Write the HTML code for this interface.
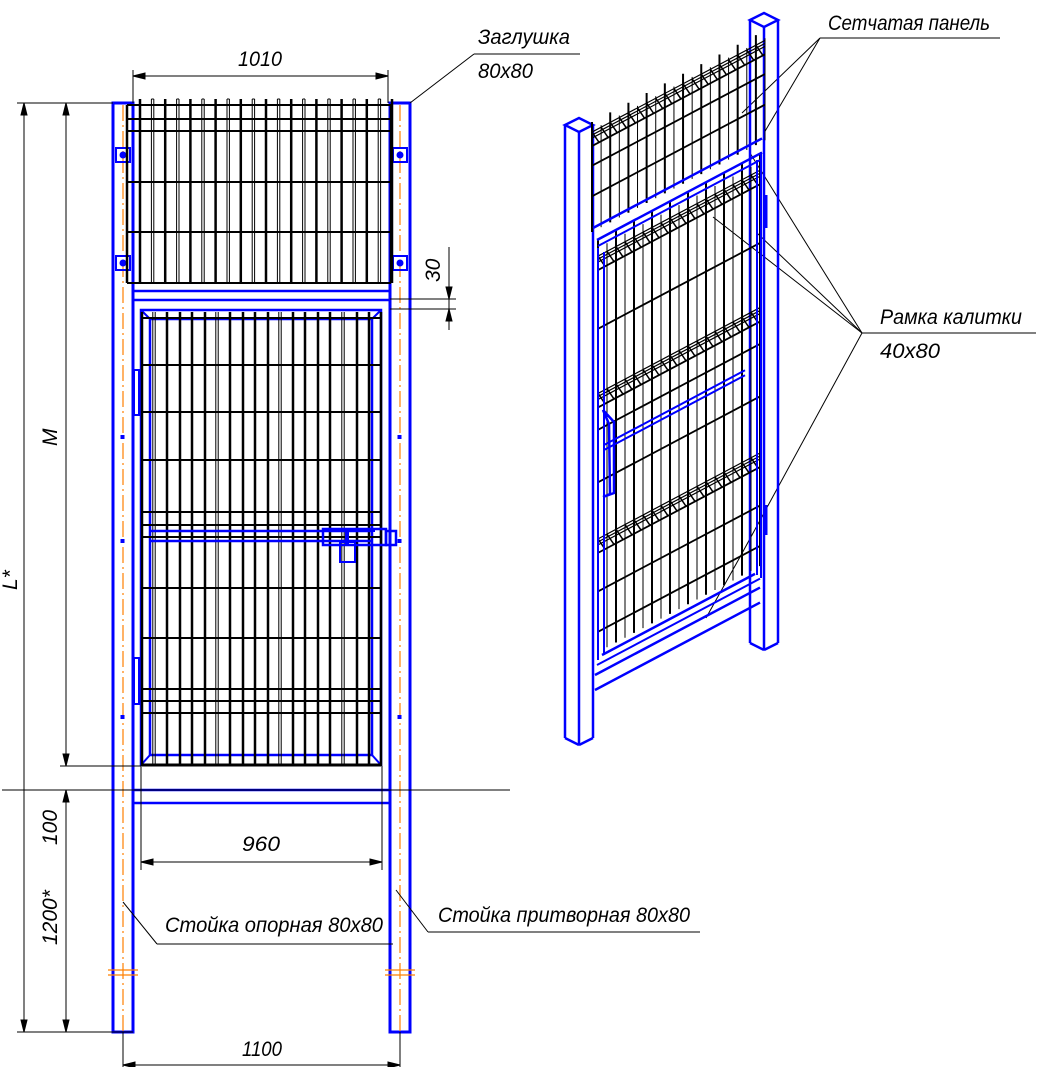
<!DOCTYPE html>
<html><head><meta charset="utf-8"><style>
html,body{margin:0;padding:0;background:#fff;}
svg{display:block;}
text{font-family:"Liberation Sans","DejaVu Sans",sans-serif;font-style:italic;font-size:21px;fill:#000;}
</style></head><body>
<svg id="s" width="1058" height="1067" viewBox="0 0 1058 1067" xmlns="http://www.w3.org/2000/svg">
<g id="g" fill="none" stroke-linecap="butt"></g>
<text x="238" y="66" textLength="44" lengthAdjust="spacingAndGlyphs">1010</text>
<text x="478" y="44" textLength="92" lengthAdjust="spacingAndGlyphs">Заглушка</text>
<text x="478" y="78" textLength="55" lengthAdjust="spacingAndGlyphs">80x80</text>
<text x="828" y="30" textLength="162" lengthAdjust="spacingAndGlyphs">Сетчатая панель</text>
<text x="880" y="324" textLength="142" lengthAdjust="spacingAndGlyphs">Рамка калитки</text>
<text x="880" y="358" textLength="60" lengthAdjust="spacingAndGlyphs">40x80</text>
<text x="242" y="851" textLength="38" lengthAdjust="spacingAndGlyphs">960</text>
<text x="242" y="1056" textLength="40" lengthAdjust="spacingAndGlyphs">1100</text>
<text x="165" y="932" textLength="218" lengthAdjust="spacingAndGlyphs">Стойка опорная 80x80</text>
<text x="438" y="922" textLength="252" lengthAdjust="spacingAndGlyphs">Стойка притворная 80x80</text>
<text transform="translate(57,446) rotate(-90)">M</text>
<text transform="translate(17,590) rotate(-90)">L*</text>
<text transform="translate(57,845) rotate(-90)">100</text>
<text transform="translate(57,945) rotate(-90)">1200*</text>
<text transform="translate(440,282) rotate(-90)">30</text>
</svg>
<script>
var g=document.getElementById('g'),NS='http://www.w3.org/2000/svg';
function L(x1,y1,x2,y2,c,w,d){var e=document.createElementNS(NS,'line');e.setAttribute('x1',x1);e.setAttribute('y1',y1);e.setAttribute('x2',x2);e.setAttribute('y2',y2);e.setAttribute('stroke',c||'#000');e.setAttribute('stroke-width',w||1);if(d)e.setAttribute('stroke-dasharray',d);g.appendChild(e);}
function R(x,y,w,h,c,sw,f){var e=document.createElementNS(NS,'rect');e.setAttribute('x',x);e.setAttribute('y',y);e.setAttribute('width',w);e.setAttribute('height',h);e.setAttribute('stroke',c);e.setAttribute('stroke-width',sw);e.setAttribute('fill',f||'none');g.appendChild(e);}
function P(pts,c,w,f){var e=document.createElementNS(NS,'polygon');e.setAttribute('points',pts);e.setAttribute('stroke',c);e.setAttribute('stroke-width',w);e.setAttribute('fill',f||'none');g.appendChild(e);}
function A(x,y,dir){var s=12,h=3;var p;if(dir=='u')p=[x,y,x-h,y+s,x+h,y+s];if(dir=='d')p=[x,y,x-h,y-s,x+h,y-s];if(dir=='l')p=[x,y,x+s,y-h,x+s,y+h];if(dir=='r')p=[x,y,x-s,y-h,x-s,y+h];P(p.join(','),'#000',1,'#000');}
var B='#0000ff',O='#ff8000';
R(113,103,20,929,B,3);R(390,103,20,929,B,3);
L(123,105,123,1032,O,1.2,'16,4,2,4');L(400,105,400,1032,O,1.2,'16,4,2,4');
L(108,970,138,970,O,1.2);L(108,975,138,975,O,1.2);L(385,970,415,970,O,1.2);L(385,975,415,975,O,1.2);
[[123,155],[123,263],[400,155],[400,263]].forEach(function(p){R(p[0]-7,p[1]-7,14,14,B,2);var c=document.createElementNS(NS,'circle');c.setAttribute('cx',p[0]);c.setAttribute('cy',p[1]);c.setAttribute('r',3.5);c.setAttribute('fill',B);g.appendChild(c);});
[437,541,717].forEach(function(y){R(121,y-1.5,3,3,B,1,B);R(398,y-1.5,3,3,B,1,B);});
L(127,105,127,283,'#000',2.5);L(391,105,391,283,'#000',2.5);
[105,119,131,182,232,283].forEach(function(y){L(127,y,391,y,'#000',2);});
for(var i=0;i<21;i++){var x=140+i*12.6;if(i%2==0)L(x,99,x,283,'#000',2.5);else{L(x-1.2,99,x-1.2,283,'#000',1);L(x+1.2,99,x+1.2,283,'#000',1);L(x-1.2,99,x+1.2,99,'#000',1);}}
L(133,291,390,291,B,2.5);L(133,300,390,300,B,2.5);L(133,790,390,790,B,2.5);L(133,803,390,803,B,2.5);
R(141,310,240,455,B,2.5);R(150,319,222,436,B,2.5);
L(141,310,150,319,B,2);L(381,310,372,319,B,2);L(141,765,150,755,B,2);L(381,765,372,755,B,2);
var gx=[142,154,167,180,192,205,217,230,243,255,268,280,293,305,318,330,343,357,369,381];
gx.forEach(function(x,i){if(i==0||i==19)L(x,312,x,766,'#000',2.5);else if([1,6,11,16].indexOf(i)>=0){L(x-1.2,312,x-1.2,766,'#000',1);L(x+1.2,312,x+1.2,766,'#000',1);}else L(x,312,x,766,'#000',2.5);});
[318,365,412,460,512,525,537,588,638,689,701,713,765].forEach(function(y){L(142,y,381,y,'#000',y==765?3:2);});
L(150,531,372,531,B,2.5);L(150,541,372,541,B,2.5);
R(323,529,63,16,B,2.5);R(386,531,10,14,B,2.5);R(340,542,15,20,B,2);L(347,530,347,544,B,4);L(323,530,375,530,B,4);
R(134,370,5,45,B,2);R(134,658,5,46,B,2);
L(133,70,133,103,'#000',1);L(388,70,388,103,'#000',1);L(133,76,388,76,'#000',1);A(133,76,'l');A(388,76,'r');
L(17,103,113,103,'#000',1);L(24,103,24,1032,'#000',1);A(24,103,'u');A(24,1032,'d');
L(66,103,66,766,'#000',1);A(66,103,'u');A(66,766,'d');
L(60,766,141,766,'#000',1);L(2,790,510,790,'#000',1);
L(66,790,66,1032,'#000',1);A(66,790,'u');A(66,1032,'d');L(17,1032,133,1032,'#000',1);
L(390,299,456,299,'#000',1);L(390,309,456,309,'#000',1);L(449,247,449,330,'#000',1);A(449,299,'d');A(449,309,'u');
L(141,766,141,870,'#000',1);L(382,766,382,870,'#000',1);L(141,862,382,862,'#000',1);A(141,862,'l');A(382,862,'r');
L(123,1032,123,1067,'#000',1);L(400,1032,400,1067,'#000',1);L(123,1065,400,1065,'#000',1);A(123,1065,'l');A(400,1065,'r');
L(474,54,580,54,'#000',1);L(474,54,410,103,'#000',1);
L(157,944,393,944,'#000',1);L(157,944,123,902,'#000',1);
L(428,932,700,932,'#000',1);L(428,932,396,890,'#000',1);
L(820,38,1000,38,'#000',1);L(820,38,742,113,'#000',1);L(820,38,764,133,'#000',1);
L(862,333,1036,333,'#000',1);L(862,333,750,153,'#000',1);L(862,333,757,233,'#000',1);L(862,333,713,217,'#000',1);L(862,333,740,557,'#000',1);L(740,557,706,618,'#000',1);
function post(x0,yt,yb){var w=28;P([x0,yt,x0+w/2,yt-7,x0+w,yt,x0+w/2,yt+7].join(','),B,2.5);L(x0,yt,x0,yb,B,2.5);L(x0+w/2,yt+7,x0+w/2,yb+7,B,2.5);L(x0+w,yt,x0+w,yb,B,2.5);L(x0,yb,x0+w/2,yb+7,B,2.5);L(x0+w/2,yb+7,x0+w,yb,B,2.5);}
post(565,125,738);post(750,20,643);
var s=-0.53;
function mesh(x0,x1,yt,yb,fr,folds){var n=Math.round((x1-x0)/9);for(var i=0;i<=n;i++){var x=x0+(x1-x0)*i/n,o=s*(x-x0);L(x,yt+o-(i%2?0:8),x,yb+o,'#000',i%2?1:2);}
fr.forEach(function(f){var y=yt+(yb-yt)*f;L(x0,y,x1,y+s*(x1-x0),'#000',1.8);});
folds.forEach(function(f){var y=yt+(yb-yt)*f;for(var k=0;k<3;k++)L(x0,y+k*3,x1,y+k*3+s*(x1-x0),'#000',1.2);var y2=y+14;L(x0,y2,x1,y2+s*(x1-x0),'#000',1.8);for(var i=0;i<n;i++){var x=x0+(x1-x0)*i/n;L(x,y+s*(x-x0),x+7,y2+s*(x+7-x0),'#000',1.5);}});}
mesh(592,765,130,232,[0.35,0.65],[0.02]);
mesh(598,760,248,652,[0.2,0.45,0.58,0.85,0.95],[0.02,0.36,0.72]);
function sl(x0,y0,x1,c,w){L(x0,y0,x1,y0+s*(x1-x0),c,w);}
sl(593,228,762,B,2.5);sl(597,240,762,B,2.5);sl(598,246,760,B,2);
sl(597,665,760,B,2);sl(602,655,755,B,2.5);
sl(595,675,760,B,2.5);sl(595,690,760,B,2.5);
L(598,248,598,660,B,2);L(604,252,604,655,B,2);L(757,160,757,575,B,2);L(761,152,761,578,B,2);
P('603,410 614,422 614,493 603,497 610,494 609,424','#0000ff',2.5);
sl(604,445,745,B,2);sl(604,450,745,B,2);
L(766,195,766,228,B,3);L(766,505,766,535,B,3);
</script>
</body></html>
